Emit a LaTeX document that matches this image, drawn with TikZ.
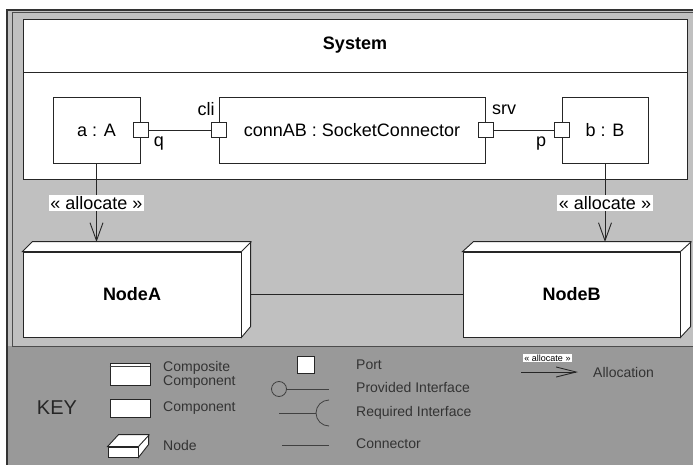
\documentclass[tikz,border=0pt]{standalone}
\usepackage{fontspec}
\setmainfont{Liberation Sans}
\usetikzlibrary{arrows.meta}
\definecolor{lightbg}{HTML}{C0C0C0}
\definecolor{darkbg}{HTML}{999999}
\definecolor{keytext}{HTML}{333333}
\newcommand{\mainfs}{\fontsize{18}{21}\selectfont}
\newcommand{\keyfs}{\fontsize{14}{14.5}\selectfont}
\newcommand{\tinyfs}{\fontsize{9}{10}\selectfont}
\begin{document}
\begin{tikzpicture}[x=1pt,y=-1pt,
  box/.style={draw=black!85, fill=white, line width=0.9pt, inner sep=0pt},
  port/.style={box, minimum size=15},
  lbl/.style={inner sep=0pt, font=\mainfs},
  wire/.style={draw=black!85, line width=0.9pt},
  alloc/.style={wire, -{Straight Barb[length=18pt,width=13pt]}},
  alloclbl/.style={fill=white, inner sep=1.5pt, font=\mainfs},
  keytxt/.style={text=keytext, font=\keyfs, anchor=west, inner sep=0pt},
  keyline/.style={draw=black!75, line width=0.8pt}]
\useasboundingbox (0,0) rectangle (693,465);
% frame and backgrounds
\fill[lightbg] (7,10) rectangle (700,346);
\fill[darkbg] (7,346) rectangle (700,470);
\draw[line width=1.3pt, black!80] (7,470) -- (7,10) -- (700,10);
\draw[line width=1pt, black!70] (12,346) -- (12,13) -- (700,13);
\draw[line width=1pt, black!70] (12,346) -- (700,346);
% System composite
\node[box, minimum width=664, minimum height=160, anchor=north west] (sys) at (23,19) {};
\draw[wire] ([yshift=-53pt]sys.north west) -- ([yshift=-53pt]sys.north east);
\node[font=\bfseries\mainfs, inner sep=0pt] (systitle) at (355,45.5) {System};
% components
\node[box, minimum width=87, minimum height=66, font=\mainfs] (aA) at (96.5,130) {a : A};
\node[box, minimum width=266, minimum height=66, font=\mainfs] (conn) at (352,130) {connAB : SocketConnector};
\node[box, minimum width=86, minimum height=66, font=\mainfs] (bB) at (605,130) {b : B};
% ports
\node[port] (q) at (aA.east) {};
\node[port] (cli) at (conn.west) {};
\node[port] (srv) at (conn.east) {};
\node[port] (p) at (bB.west) {};
\draw[wire] (q) -- (cli);
\draw[wire] (srv) -- (p);
\node[lbl] (qlbl) at (159,144) {q};
\node[lbl] (clilbl) at (206,109.5) {cli};
\node[lbl] (srvlbl) at (504,110) {srv};
\node[lbl] (plbl) at (541,144) {p};
% deployment nodes
\node[box, minimum width=218, minimum height=85, font=\bfseries\mainfs] (nA) at (132,294.5) {NodeA};
\draw[box] (nA.north west) -- ++(10,-10) -- ++(218,0) -- ++(0,85) -- (nA.south east) -- (nA.north east) -- cycle;
\draw[box] (nA.north east) -- ++(10,-10);
\node[box, minimum width=217, minimum height=85, font=\bfseries\mainfs] (nB) at (571.5,294.5) {NodeB};
\draw[box] (nB.north west) -- ++(11,-10) -- ++(217,0) -- ++(0,85) -- (nB.south east) -- (nB.north east) -- cycle;
\draw[box] (nB.north east) -- ++(11,-10);
\draw[wire] ([xshift=10pt]nA.east) -- (nB.west);
% allocations
\coordinate (nAtop) at (96.5,242);
\coordinate (nBtop) at (605,242);
\draw[alloc] (aA.south) -- node[alloclbl] (allocA) {« allocate »} (nAtop);
\draw[alloc] (bB.south) -- node[alloclbl] (allocB) {« allocate »} (nBtop);
% KEY
\node[font=\fontsize{20}{24}\selectfont, text=black!85, inner sep=0pt] (key) at (57,408) {KEY};
\node[box, minimum width=40, minimum height=22] (kcomp) at (130,374) {};
\draw[keyline] ([yshift=-3.5pt]kcomp.north west) -- ([yshift=-3.5pt]kcomp.north east);
\node[keytxt, align=left] (kcompt) at (163,375) {Composite\\Component};
\node[box, minimum width=40, minimum height=18] (kcmp) at (130,408) {};
\node[keytxt] (kcmpt) at (163,408) {Component};
\node[box, minimum width=30, minimum height=10] (knode) at (123,452) {};
\draw[box] (knode.north west) -- ++(11,-12) -- ++(30,0) -- ++(0,10) -- (knode.south east) -- (knode.north east) -- cycle;
\draw[box] (knode.north east) -- ++(11,-12);
\node[keytxt] (knodet) at (163,445) {Node};
\node[port, minimum size=17] (kport) at (305.5,365) {};
\node[keytxt] (kportt) at (356,365) {Port};
\node[draw=black!75, line width=0.8pt, circle, minimum size=15, inner sep=0pt] (kcirc) at (279,389) {};
\coordinate (kprovend) at (329,389);
\draw[keyline] (kcirc) -- (kprovend);
\node[keytxt] (kprovt) at (356,387) {Provided Interface};
\coordinate (kreqs) at (279,413);
\coordinate (kreqe) at (316,413);
\draw[keyline] (kreqs) -- (kreqe);
\draw[keyline] (329,400) arc[start angle=-90, end angle=-270, radius=13];
\node[keytxt] (kreqt) at (356,413) {Required Interface};
\coordinate (kc1) at (282,445);
\coordinate (kc2) at (329,445);
\draw[keyline] (kc1) -- (kc2);
\node[keytxt] (kconnt) at (356,444) {Connector};
\coordinate (ka1) at (521,372);
\coordinate (ka2) at (578,372);
\draw[wire, -{Straight Barb[length=20pt,width=10pt]}] (ka1) -- (ka2);
\node[fill=white, inner sep=1pt, font=\tinyfs] (kalbl) at (547.5,358) {« allocate »};
\node[keytxt] (kallt) at (593,372) {Allocation};
\end{tikzpicture}
\end{document}
